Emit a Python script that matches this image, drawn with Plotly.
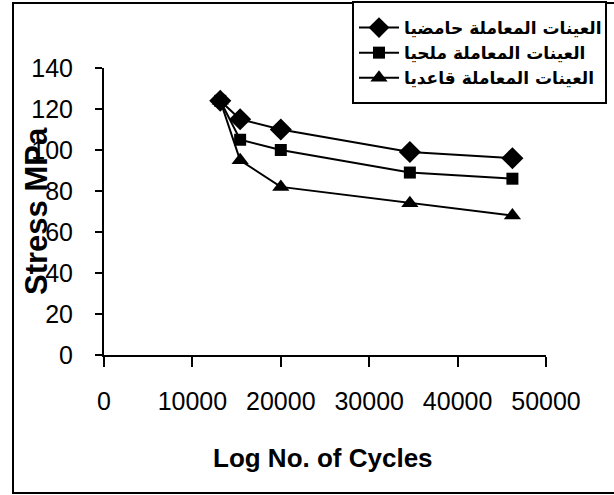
import plotly.graph_objects as go

cycles = [13150, 15400, 20000, 34600, 46200]
acid = [124, 115, 110, 99, 96]
salt = [124, 105, 100, 89, 86]
base = [124, 95, 82, 74, 68]
names = ["العينات المعاملة حامضيا", "العينات المعاملة ملحيا", "العينات المعاملة قاعديا"]
x_ticks = [0, 10000, 20000, 30000, 40000, 50000]
y_ticks = [0, 20, 40, 60, 80, 100, 120, 140]

W, H = 614, 495
PX0, PX1, PY0, PY1 = 104, 546, 68, 355
pw, ph = PX1 - PX0, PY1 - PY0

def px_x(p):
    return (p - PX0) / pw

def px_y(p):
    return (PY1 - p) / ph

fig = go.Figure()
for vals, name, sym, sz in [(acid, names[0], "diamond", 17), (salt, names[1], "square", 12), (base, names[2], "triangle-up", 15)]:
    fig.add_trace(go.Scatter(x=cycles, y=vals, name=name, mode="lines+markers",
                             line=dict(color="black", width=2),
                             marker=dict(symbol=sym, size=sz, color="black")))

tickfont = dict(family="Liberation Sans, Arial", size=25, color="black")
fig.update_layout(
    width=W, height=H,
    margin=dict(l=PX0, r=W - PX1, t=PY0, b=H - PY1, autoexpand=False),
    paper_bgcolor="white", plot_bgcolor="white",
    showlegend=True,
    legend=dict(x=px_x(354), y=px_y(10), xanchor="left", yanchor="top",
                bgcolor="rgba(0,0,0,0)", borderwidth=0,
                font=dict(family="DejaVu Sans, Liberation Sans", size=17, color="black", weight="bold"),
                itemwidth=40, tracegroupgap=0),
    xaxis=dict(range=[0, 50000], tickvals=x_ticks, ticktext=[str(v) for v in x_ticks],
               showgrid=False, zeroline=False, showline=True, linecolor="black", linewidth=2,
               ticks="outside", ticklen=10, tickwidth=2, tickcolor="black", automargin=False,
               tickfont=tickfont, ticklabelstandoff=13),
    yaxis=dict(range=[0, 140], tickvals=y_ticks, ticktext=[str(v) for v in y_ticks],
               showgrid=False, zeroline=False, showline=True, linecolor="black", linewidth=2,
               ticks="outside", ticklen=7, tickwidth=2, tickcolor="black", automargin=False,
               tickfont=tickfont, ticklabelstandoff=17),
    shapes=[
        dict(type="rect", xref="paper", yref="paper",
             x0=px_x(13), x1=px_x(640), y0=px_y(493), y1=px_y(3),
             line=dict(color="black", width=2), layer="below"),
        dict(type="rect", xref="paper", yref="paper",
             x0=px_x(353), x1=px_x(606), y0=px_y(103), y1=px_y(2),
             line=dict(color="black", width=2), fillcolor="white", layer="above"),
    ],
    annotations=[
        dict(text="Log No. of Cycles", xref="paper", yref="paper",
             x=px_x(323), y=px_y(458), xanchor="center", yanchor="middle", showarrow=False,
             font=dict(family="Liberation Sans, Arial", size=26, color="black", weight="bold")),
        dict(text="Stress MPa", xref="paper", yref="paper", textangle=-90,
             x=px_x(36), y=px_y(211), xanchor="center", yanchor="middle", showarrow=False,
             font=dict(family="Liberation Sans, Arial", size=31, color="black", weight="bold")),
    ],
)
fig.write_html("out.html", config={"displayModeBar": False},
               post_script="document.body.style.margin='0';document.body.style.padding='0';")
